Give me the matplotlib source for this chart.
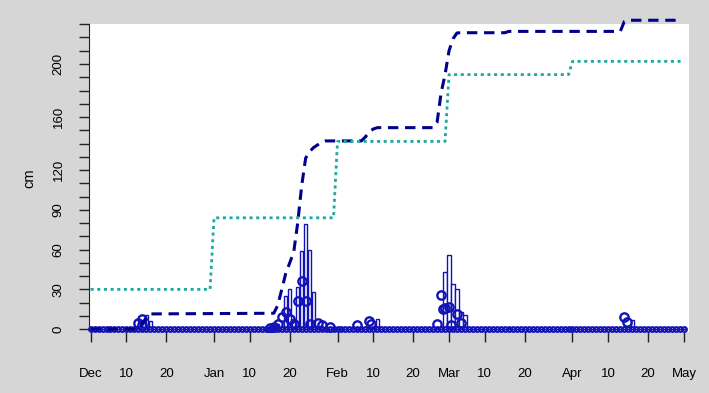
import numpy as np
import matplotlib.pyplot as plt

# dias contados desde el 1 de diciembre
n_dias = 150

# barras diarias (dia, valor)
barra_dias = [14, 15, 45, 46, 47, 49, 50, 51, 52, 53, 54, 55, 56, 72, 89, 90, 91, 92, 93, 94, 105, 136]
barra_vals = [11, 6, 2, 3, 4, 25, 30, 8, 32, 59, 79, 60, 28, 7.5, 43, 56, 34, 30, 13, 11, 1, 7]

# circulos diarios (dia, valor)
circ_dias = [12, 13, 13, 45, 46, 47, 48, 49, 50, 51, 52, 53, 54, 55, 57, 58, 60,
             67, 70, 70.5, 87, 88, 88.5, 89, 90, 90.6, 92, 93, 134, 134.6]
circ_vals = [5, 8, 3, 1, 2, 4, 9.5, 13, 8, 4, 21, 36.5, 21, 4, 5, 3, 2,
             3, 6.5, 4, 3.8, 25.6, 15, 16, 16.6, 3, 11.5, 5, 9, 5.7]

# acumulado (linea discontinua)
acum_dias = [0, 12, 13, 14, 15, 46, 47, 48, 49, 50, 51, 52, 53, 54, 55, 56, 57, 58, 59,
             68, 69, 70, 71, 72, 86, 87, 88, 89, 90, 91, 92, 93, 104, 105, 133, 134, 135, 148]
acum_vals = [0, 0, 4, 9, 11.5, 12, 18, 30, 42, 50, 58, 80, 108, 129, 134, 137, 139, 141, 142,
             142, 145, 149, 151, 152, 152, 156, 178, 192, 210, 219, 223.4, 223.6, 223.6, 224.6,
             224.6, 232, 233, 233]

# totales mensuales (linea punteada)
mes_dias = [0, 30, 31, 61, 62, 89, 90, 120, 121, 149]
mes_vals = [30, 30, 84, 84, 141.6, 141.6, 192, 192, 202, 202]

# ejes
xtick_dias = [0, 9, 19, 31, 40, 50, 62, 71, 81, 90, 99, 109, 121, 130, 140, 149]
xtick_etiq = ["Dec", "10", "20", "Jan", "10", "20", "Feb", "10", "20",
              "Mar", "10", "20", "Apr", "10", "20", "May"]
ytick_etiq = [0, 30, 60, 90, 120, 160, 200]

plt.rcParams['font.family'] = ['Liberation Sans', 'DejaVu Sans']

fondo = '#d6d6d6'
azul = '#1212b8'
marino = '#00008b'
turquesa = '#1fa89f'

fig = plt.figure(figsize=(7.09, 3.93), dpi=100, facecolor=fondo)
ax = fig.add_axes([0.1255, 0.155, 0.846, 0.784])
ax.set_facecolor('white')

# barras (todos los dias, cero si no hay dato)
serie_barras = np.zeros(n_dias)
serie_barras[barra_dias] = barra_vals
ax.bar(np.arange(n_dias), serie_barras, width=0.8, facecolor='white',
       edgecolor=azul, linewidth=1.0, zorder=2)

# circulos en cero para cada dia y los valores
ax.plot(np.arange(n_dias), np.zeros(n_dias), 'o', ms=3.3, mfc='none', mec=azul,
        mew=1.6, zorder=3, clip_on=False)
ax.plot(circ_dias, circ_vals, 'o', ms=6, mfc='none', mec=azul, mew=1.7, zorder=3)

ax.plot(acum_dias, acum_vals, color=marino, lw=2.2, dashes=(3.4, 2.2), zorder=4,
        clip_on=False)
ax.plot(mes_dias, mes_vals, color=turquesa, lw=2.0, dashes=(1.1, 1.3), zorder=5)

ax.set_xlim(-0.4, 150.2)
ax.set_ylim(-2.2, 230.2)

ax.set_xticks(xtick_dias)
ax.set_xticklabels(xtick_etiq, fontsize=9.5)
yticks = np.arange(0, 231, 10)
ax.set_yticks(yticks)
ax.set_yticklabels([str(v) if v in ytick_etiq else '' for v in yticks],
                   rotation=90, va='center', fontsize=9.5)

ax.tick_params(axis='x', length=7.5, width=1, pad=18, color='#222222')
ax.tick_params(axis='y', length=7.5, width=1, pad=10, color='#222222')

for lado in ['top', 'right', 'bottom']:
    ax.spines[lado].set_visible(False)
ax.spines['left'].set_bounds(0, 230)
ax.spines['left'].set_color('#222222')

ax.set_ylabel('cm', fontsize=10.5, labelpad=12)

fig.savefig('out.png', dpi=100, facecolor=fondo)
